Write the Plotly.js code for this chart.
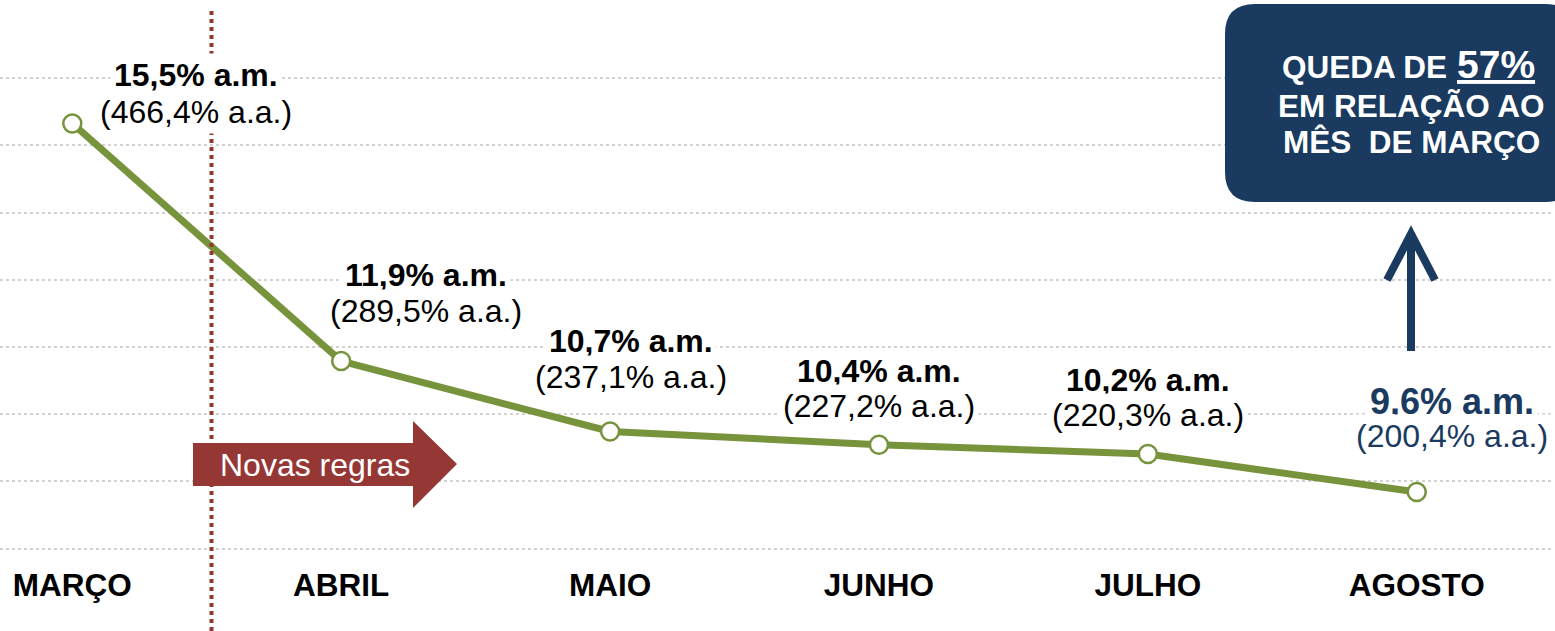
<!DOCTYPE html>
<html>
<head>
<meta charset="utf-8">
<script src="https://cdn.plot.ly/plotly-3.0.1.min.js"></script>
<style>
  html, body { margin: 0; padding: 0; background: #ffffff; }
  #chart { width: 1555px; height: 631px; }
</style>
</head>
<body>
<div id="chart"></div>
<script>
// ---- data ----
const months = ["MARÇO", "ABRIL", "MAIO", "JUNHO", "JULHO", "AGOSTO"];
// plotted annual rate (% a.a.) as positioned in the picture
const taxaAA = [466.4, 289.5, 237.1, 227.2, 220.3, 192.0];
const labelAM = ["15,5% a.m.", "11,9% a.m.", "10,7% a.m.", "10,4% a.m.", "10,2% a.m.", "9,6% a.m."];
const labelAA = ["(466,4% a.a.)", "(289,5% a.a.)", "(237,1% a.a.)", "(227,2% a.a.)", "(220,3% a.a.)", "(200,4% a.a.)"];
const gridVals = [150, 200, 250, 300, 350, 400, 450, 500];
const boxLines = ["QUEDA DE", "57%", "EM RELAÇÃO AO", "MÊS  DE MARÇO"];
const arrowText = "Novas regras";

// ---- styling / layout ----
const GREEN = "#77933c", RED = "#953735", NAVY = "#1a3a60";
const FONT = "Liberation Sans, Arial, sans-serif";
const W = 1555, H = 631;
const M = {l: 0, r: 3, t: 0, b: 75};
const PW = W - M.l - M.r, PH = H - M.t - M.b;
const px = x => (x - M.l) / PW;
const py = y => 1 - (y - M.t) / PH;

// label offsets (px) relative to each point: [dx, up1, up2]
const labelOff = [[124, 48, 11], [85, 86, 50], [21, 90, 54], [0, 74, 39], [0, 74, 39], [35, 91, 56]];
const amSize = [32, 32, 32, 32, 32, 36];

const trace = {
  x: months.map((m, i) => i),
  y: taxaAA,
  type: "scatter",
  mode: "lines+markers",
  line: {color: GREEN, width: 7},
  marker: {size: 18, color: "#ffffff", line: {color: GREEN, width: 2.5}},
  hoverinfo: "skip",
  cliponaxis: false
};

const annotations = [];
months.forEach((m, i) => {
  const col = i === months.length - 1 ? NAVY : "#000000";
  const [dx, u1, u2] = labelOff[i];
  annotations.push({
    x: i, y: taxaAA[i], xref: "x", yref: "y", xshift: dx, yshift: u1,
    text: labelAM[i], showarrow: false, xanchor: "center", yanchor: "middle",
    font: {family: FONT, size: amSize[i], color: col, weight: "bold"},
    bgcolor: "#ffffff", borderpad: 3
  });
  annotations.push({
    x: i, y: taxaAA[i], xref: "x", yref: "y", xshift: dx, yshift: u2,
    text: labelAA[i], showarrow: false, xanchor: "center", yanchor: "middle",
    font: {family: FONT, size: 32, color: col},
    bgcolor: "#ffffff", borderpad: 3
  });
});
// box text: line 1 split into two pieces so the larger "57%" keeps its own box
annotations.push({
  x: px(1449), y: py(67), xref: "paper", yref: "paper",
  text: boxLines[0], showarrow: false, xanchor: "right", yanchor: "middle",
  font: {family: FONT, size: 31.5, color: "#ffffff", weight: "bold"}
});
annotations.push({
  x: px(1455), y: py(64.5), xref: "paper", yref: "paper",
  text: "<u>" + boxLines[1] + "</u>", showarrow: false, xanchor: "left", yanchor: "middle",
  font: {family: FONT, size: 39, color: "#ffffff", weight: "bold"}
});
annotations.push({
  x: px(1411), y: py(106), xref: "paper", yref: "paper",
  text: boxLines[2], showarrow: false, xanchor: "center", yanchor: "middle",
  font: {family: FONT, size: 31.5, color: "#ffffff", weight: "bold"}
});
annotations.push({
  x: px(1411), y: py(142), xref: "paper", yref: "paper",
  text: boxLines[3], showarrow: false, xanchor: "center", yanchor: "middle",
  font: {family: FONT, size: 31.5, color: "#ffffff", weight: "bold"}
});
// arrow text
annotations.push({
  x: px(315), y: py(465), xref: "paper", yref: "paper",
  text: arrowText, showarrow: false, xanchor: "center", yanchor: "middle",
  font: {family: FONT, size: 32, color: "#ffffff"}
});

function rr(x0, y0, x1, y1, r) {
  return `M${px(x0 + r)},${py(y0)} L${px(x1 - r)},${py(y0)} Q${px(x1)},${py(y0)} ${px(x1)},${py(y0 + r)} ` +
         `L${px(x1)},${py(y1 - r)} Q${px(x1)},${py(y1)} ${px(x1 - r)},${py(y1)} L${px(x0 + r)},${py(y1)} ` +
         `Q${px(x0)},${py(y1)} ${px(x0)},${py(y1 - r)} L${px(x0)},${py(y0 + r)} Q${px(x0)},${py(y0)} ${px(x0 + r)},${py(y0)} Z`;
}
function poly(pts) {
  return "M" + pts.map(p => `${px(p[0])},${py(p[1])}`).join(" L") + " Z";
}

const shapes = [
  // vertical dotted red line
  {type: "line", xref: "paper", yref: "paper", x0: px(211.5), x1: px(211.5), y0: py(11), y1: py(631),
   line: {color: RED, width: 4, dash: "4px,4px"}, layer: "above"},
  // Novas regras arrow
  {type: "path", xref: "paper", yref: "paper",
   path: poly([[193, 443], [413, 443], [413, 421], [457, 464], [413, 508], [413, 486], [193, 486]]),
   fillcolor: RED, line: {width: 0}, layer: "above"},
  // navy box
  {type: "path", xref: "paper", yref: "paper", path: rr(1225, 4, 1575, 202, 30),
   fillcolor: NAVY, line: {width: 0}, layer: "above"},
  // up arrow shaft
  {type: "line", xref: "paper", yref: "paper", x0: px(1411), x1: px(1411), y0: py(351), y1: py(234),
   line: {color: NAVY, width: 8}, layer: "above"},
  // up arrow head
  {type: "path", xref: "paper", yref: "paper",
   path: `M${px(1387)},${py(280)} L${px(1411)},${py(234)} L${px(1435)},${py(280)}`,
   line: {color: NAVY, width: 8}, layer: "above"}
];

const layout = {
  width: W, height: H,
  margin: M,
  paper_bgcolor: "#ffffff", plot_bgcolor: "#ffffff",
  showlegend: false,
  xaxis: {
    range: [-0.2689, 5.503], tickmode: "array", tickvals: months.map((m, i) => i), ticktext: months,
    showgrid: false, zeroline: false, showline: false, ticks: "",
    tickfont: {family: FONT, size: 31.5, color: "#000000", weight: "bold"},
    ticklabelstandoff: 7, fixedrange: true
  },
  yaxis: {
    range: [144.417, 558.29], tickmode: "array", tickvals: gridVals, showticklabels: false,
    showgrid: true, gridcolor: "#d2d2d2", gridwidth: 2, griddash: "dot",
    zeroline: false, showline: false, ticks: "", fixedrange: true
  },
  shapes: shapes,
  annotations: annotations
};

Plotly.newPlot("chart", [trace], layout, {displayModeBar: false, staticPlot: true});
</script>
</body>
</html>
